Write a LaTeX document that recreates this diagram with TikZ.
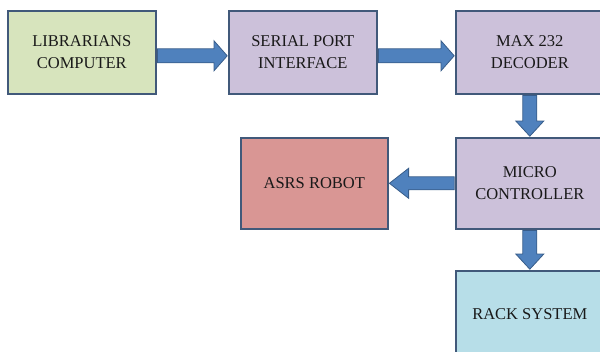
\documentclass[tikz,border=0pt]{standalone}
\usepackage{fontspec}
\setmainfont{Liberation Serif}
\usetikzlibrary{calc}
\definecolor{bordc}{HTML}{41597A}
\definecolor{greenf}{HTML}{D7E4BD}
\definecolor{purplef}{HTML}{CCC1DA}
\definecolor{redf}{HTML}{D99694}
\definecolor{bluef}{HTML}{B7DEE8}
\definecolor{arrf}{HTML}{4F81BD}
\definecolor{arrd}{HTML}{385D8A}
\tikzset{
  blockbox/.style={draw=bordc, line width=1.6pt, rectangle, anchor=north west,
    align=center, text=black!90, font=\fontsize{16.5}{22}\selectfont, inner sep=0pt},
  fatarrow/.style={fill=arrf, draw=arrd, line width=0.8pt, line join=miter}
}
\begin{document}
\begin{tikzpicture}[x=1pt,y=-1pt]
\useasboundingbox (0,0) rectangle (600,351);
\node[blockbox, fill=greenf, minimum width=148pt, minimum height=83pt] (lib) at (7,10) {LIBRARIANS\\COMPUTER};
\node[blockbox, fill=purplef, minimum width=148pt, minimum height=83pt] (ser) at (228,10) {SERIAL PORT\\INTERFACE};
\node[blockbox, fill=purplef, minimum width=148pt, minimum height=83pt] (max) at (455,10) {MAX 232\\DECODER};
\node[blockbox, fill=redf, minimum width=147pt, minimum height=91pt] (asrs) at (240,137) {ASRS ROBOT};
\node[blockbox, fill=purplef, minimum width=148pt, minimum height=91pt] (mic) at (455,137) {MICRO\\CONTROLLER};
\node[blockbox, fill=bluef, minimum width=148pt, minimum height=86pt] (rack) at (455,270) {RACK SYSTEM};
% horizontal right arrows (centre 3.5pt below box centre)
\foreach \a/\b in {lib/ser, ser/max}{
  \draw[fatarrow] ($(\a.east)+(0.8,-3.5)$) -- ($(\b.west)+(-14,-3.5)$) -- ($(\b.west)+(-14,-11.5)$)
    -- ($(\b.west)+(-0.8,3.5)$) -- ($(\b.west)+(-14,18.5)$) -- ($(\b.west)+(-14,10.5)$)
    -- ($(\a.east)+(0.8,10.5)$) -- cycle;
}
% left arrow
\draw[fatarrow] ($(mic.west)+(-0.8,-6.5)$) -- ($(asrs.east)+(20,-6.5)$) -- ($(asrs.east)+(20,-15)$)
  -- ($(asrs.east)+(0.8,0)$) -- ($(asrs.east)+(20,15)$) -- ($(asrs.east)+(20,6.5)$)
  -- ($(mic.west)+(-0.8,6.5)$) -- cycle;
% down arrows
\foreach \a/\b in {max/mic, mic/rack}{
  \draw[fatarrow] ($(\a.south)+(-7,0.8)$) -- ($(\b.north)+(-7,-16)$) -- ($(\b.north)+(-14,-16)$)
    -- ($(\b.north)+(0,-0.8)$) -- ($(\b.north)+(14,-16)$) -- ($(\b.north)+(7,-16)$)
    -- ($(\a.south)+(7,0.8)$) -- cycle;
}
\end{tikzpicture}
\end{document}
